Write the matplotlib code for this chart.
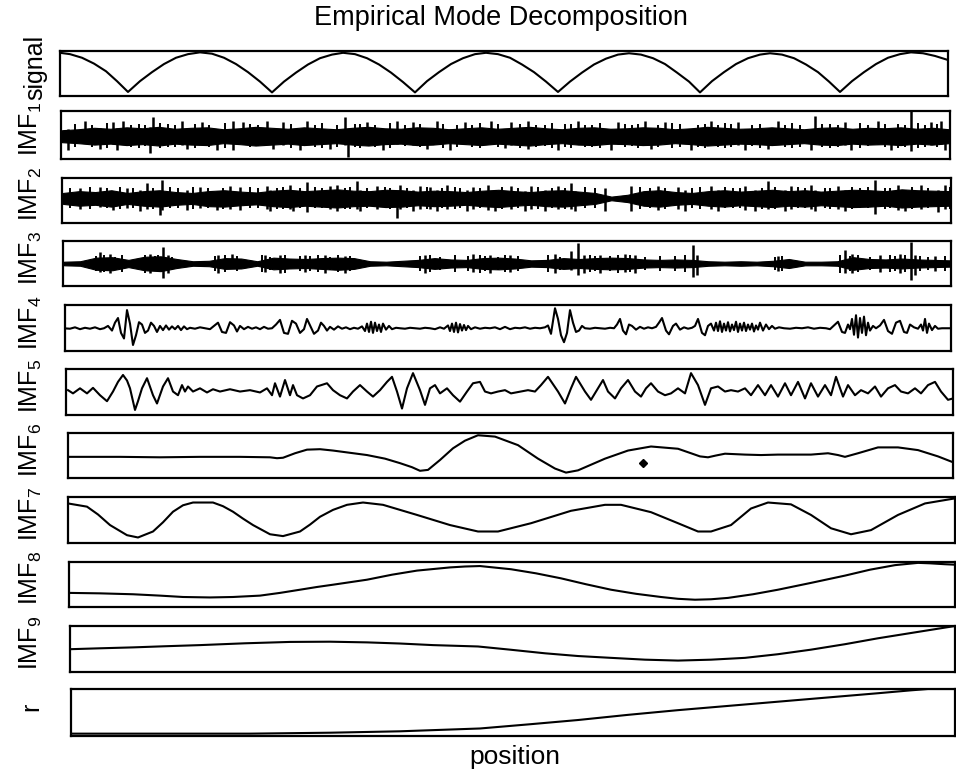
import numpy as np
import matplotlib
matplotlib.use('Agg')
import matplotlib.pyplot as plt

plt.rcParams['font.family'] = ['Liberation Sans', 'DejaVu Sans']
plt.rcParams['mathtext.fontset'] = 'custom'
plt.rcParams['mathtext.rm'] = 'Liberation Sans'

# ---- data (position, normalised amplitude 0..1 inside each panel) ----

# original signal: rectified sine-like arches
sig_x = [60, 70, 82, 94, 106, 117, 128,
         140, 152, 164, 176, 188, 200, 212, 224, 236, 248, 260, 272,
         284, 296, 308, 320, 332, 343, 355, 367, 379, 391, 403, 415,
         427, 439, 451, 463, 475, 486, 498, 510, 522, 534, 546, 558,
         570, 582, 594, 606, 618, 629, 641, 653, 665, 677, 689, 700,
         712, 724, 736, 748, 760, 770, 782, 794, 806, 818, 829, 840,
         852, 864, 876, 888, 900, 911, 923, 935, 948]
sig_y = [0.96, 0.93, 0.85, 0.72, 0.55, 0.33, 0.09,
         0.33, 0.53, 0.71, 0.85, 0.93, 0.97, 0.94, 0.85, 0.71, 0.53, 0.32, 0.08,
         0.32, 0.52, 0.70, 0.84, 0.92, 0.96, 0.93, 0.84, 0.70, 0.52, 0.31, 0.08,
         0.33, 0.53, 0.71, 0.84, 0.93, 0.96, 0.93, 0.85, 0.70, 0.53, 0.32, 0.09,
         0.32, 0.52, 0.70, 0.83, 0.92, 0.95, 0.92, 0.84, 0.71, 0.52, 0.32, 0.08,
         0.33, 0.53, 0.71, 0.84, 0.92, 0.95, 0.92, 0.84, 0.70, 0.53, 0.32, 0.09,
         0.33, 0.53, 0.71, 0.85, 0.93, 0.97, 0.95, 0.89, 0.80]

# IMF1-IMF3: dense oscillation -> band envelope, large bursts, small fringe
imf1_hi = [0.60, 0.62, 0.65, 0.63, 0.66, 0.64, 0.67, 0.63,
           0.65, 0.66, 0.62, 0.64, 0.67, 0.65, 0.63, 0.66,
           0.64, 0.62, 0.65, 0.67, 0.64, 0.63, 0.66, 0.65,
           0.62, 0.64, 0.66, 0.63, 0.65, 0.67, 0.64, 0.62,
           0.65, 0.66, 0.63, 0.64, 0.66, 0.65, 0.62, 0.64,
           0.67, 0.65, 0.63, 0.64, 0.66, 0.64, 0.62, 0.65,
           0.66, 0.63, 0.65, 0.64, 0.66, 0.63, 0.65, 0.62]
imf1_lo = [0.35, 0.33, 0.30, 0.32, 0.29, 0.31, 0.28, 0.32,
           0.30, 0.29, 0.33, 0.31, 0.28, 0.30, 0.32, 0.29,
           0.31, 0.33, 0.30, 0.28, 0.31, 0.32, 0.29, 0.30,
           0.33, 0.31, 0.29, 0.32, 0.30, 0.28, 0.31, 0.33,
           0.30, 0.29, 0.32, 0.31, 0.29, 0.30, 0.33, 0.31,
           0.28, 0.30, 0.32, 0.31, 0.29, 0.31, 0.33, 0.30,
           0.29, 0.32, 0.30, 0.31, 0.29, 0.32, 0.30, 0.33]
imf1_bx = [68, 85, 100, 113, 117, 123, 150, 153, 182, 187, 202, 217, 233, 243,
           267, 273, 283, 300, 307, 330, 345, 348, 367, 383, 397, 413, 427, 437,
           450, 465, 491, 505, 511, 528, 558, 578, 611, 618, 645, 651, 665, 691,
           711, 738, 745, 768, 778, 811, 815, 845, 851, 878, 891, 911, 931, 941, 945]
imf1_btop = [0.62, 0.80, 0.64, 0.78, 0.64, 0.80, 0.66, 0.88, 0.80, 0.62, 0.78, 0.62, 0.80, 0.78,
             0.80, 0.62, 0.78, 0.62, 0.80, 0.62, 0.88, 0.60, 0.78, 0.62, 0.80, 0.78, 0.62, 0.80,
             0.62, 0.78, 0.80, 0.62, 0.78, 0.80, 0.62, 0.80, 0.62, 0.78, 0.80, 0.62, 0.78, 0.62,
             0.80, 0.78, 0.62, 0.62, 0.80, 0.62, 0.89, 0.78, 0.62, 0.80, 0.62, 1.00, 0.78, 0.80, 0.62]
imf1_bbot = [0.18, 0.34, 0.20, 0.32, 0.18, 0.34, 0.12, 0.32, 0.30, 0.20, 0.32, 0.19, 0.18, 0.32,
             0.32, 0.20, 0.30, 0.18, 0.32, 0.20, 0.30, 0.04, 0.32, 0.18, 0.32, 0.30, 0.20, 0.32,
             0.18, 0.32, 0.32, 0.22, 0.30, 0.20, 0.19, 0.32, 0.18, 0.32, 0.30, 0.20, 0.32, 0.18,
             0.32, 0.30, 0.19, 0.20, 0.32, 0.18, 0.32, 0.30, 0.19, 0.32, 0.18, 0.17, 0.30, 0.32, 0.18]
imf1_fx = [75, 92, 107, 131, 139, 145, 160, 168, 175, 195,
           209, 225, 250, 258, 291, 315, 322, 337, 355, 360,
           375, 390, 405, 420, 443, 457, 472, 480, 498, 520,
           536, 545, 552, 565, 571, 585, 592, 600, 625, 632,
           638, 658, 672, 680, 698, 705, 718, 725, 731, 752,
           760, 785, 792, 800, 822, 830, 838, 860, 868, 885,
           898, 905, 918, 925, 937]
imf1_ftop = [0.72, 0.70, 0.74, 0.71, 0.73, 0.70, 0.74, 0.72, 0.70, 0.73,
             0.71, 0.74, 0.72, 0.70, 0.73, 0.71, 0.74, 0.70, 0.72, 0.73,
             0.71, 0.74, 0.70, 0.72, 0.73, 0.71, 0.70, 0.74, 0.72, 0.73,
             0.71, 0.70, 0.74, 0.72, 0.73, 0.70, 0.71, 0.74, 0.72, 0.70,
             0.73, 0.71, 0.74, 0.72, 0.70, 0.73, 0.71, 0.74, 0.72, 0.70,
             0.73, 0.71, 0.74, 0.70, 0.72, 0.73, 0.71, 0.74, 0.70, 0.72,
             0.73, 0.71, 0.74, 0.70, 0.72]
imf1_fbot = [0.24, 0.26, 0.22, 0.25, 0.23, 0.27, 0.22, 0.24, 0.26, 0.23,
             0.25, 0.22, 0.24, 0.27, 0.23, 0.25, 0.22, 0.26, 0.24, 0.23,
             0.25, 0.22, 0.27, 0.24, 0.23, 0.25, 0.26, 0.22, 0.24, 0.23,
             0.25, 0.27, 0.22, 0.24, 0.23, 0.26, 0.25, 0.22, 0.24, 0.27,
             0.23, 0.25, 0.22, 0.24, 0.26, 0.23, 0.25, 0.22, 0.24, 0.27,
             0.23, 0.25, 0.22, 0.26, 0.24, 0.23, 0.25, 0.22, 0.27, 0.24,
             0.23, 0.25, 0.22, 0.26, 0.24]

imf2_hi = [0.66, 0.70, 0.68, 0.72, 0.66, 0.70, 0.72, 0.68,
           0.66, 0.70, 0.72, 0.69, 0.67, 0.71, 0.73, 0.70,
           0.72, 0.74, 0.71, 0.70, 0.73, 0.72, 0.69, 0.71,
           0.70, 0.68, 0.71, 0.73, 0.70, 0.68, 0.71, 0.72,
           0.69, 0.66, 0.58, 0.62, 0.70, 0.72, 0.68, 0.66,
           0.70, 0.72, 0.69, 0.71, 0.73, 0.70, 0.72, 0.69,
           0.71, 0.73, 0.72, 0.70, 0.74, 0.72, 0.71, 0.70]
imf2_lo = [0.42, 0.38, 0.40, 0.36, 0.42, 0.38, 0.36, 0.40,
           0.42, 0.37, 0.36, 0.39, 0.41, 0.37, 0.35, 0.38,
           0.36, 0.34, 0.37, 0.38, 0.35, 0.36, 0.39, 0.37,
           0.38, 0.40, 0.37, 0.35, 0.38, 0.40, 0.37, 0.36,
           0.39, 0.42, 0.50, 0.46, 0.38, 0.36, 0.40, 0.42,
           0.38, 0.36, 0.39, 0.37, 0.35, 0.38, 0.36, 0.39,
           0.37, 0.35, 0.36, 0.38, 0.34, 0.36, 0.37, 0.38]
imf2_bx = [80, 100, 113, 127, 140, 147, 160, 162, 187, 200, 217, 230, 240, 267, 270,
           290, 293, 307, 330, 337, 357, 360, 377, 397, 400, 413, 420, 430, 437, 447,
           467, 473, 488, 495, 511, 525, 531, 545, 558, 571, 575, 605, 631, 658, 678,
           685, 711, 718, 745, 755, 768, 785, 791, 811, 815, 838, 845, 875, 898, 905,
           921, 938, 945]
imf2_btop = [0.78, 0.80, 0.70, 0.78, 0.72, 0.87, 0.70, 0.94, 0.72, 0.80, 0.70, 0.82, 0.80, 0.82, 0.72,
             0.84, 0.70, 0.90, 0.82, 0.84, 0.93, 0.72, 0.82, 0.70, 0.84, 0.72, 0.82, 0.80, 0.72, 0.84,
             0.72, 0.80, 0.84, 0.72, 0.82, 0.70, 0.82, 0.72, 0.82, 0.88, 0.70, 0.78, 0.82, 0.82, 0.80,
             0.72, 0.82, 0.72, 0.82, 0.72, 0.93, 0.72, 0.82, 0.84, 0.72, 0.82, 0.72, 0.94, 0.84, 0.72,
             0.84, 0.72, 0.84]
imf2_bbot = [0.30, 0.36, 0.28, 0.34, 0.27, 0.30, 0.18, 0.28, 0.28, 0.34, 0.28, 0.30, 0.28, 0.30, 0.27,
             0.30, 0.26, 0.24, 0.30, 0.26, 0.30, 0.26, 0.30, 0.12, 0.30, 0.26, 0.30, 0.30, 0.27, 0.30,
             0.27, 0.30, 0.28, 0.26, 0.30, 0.27, 0.30, 0.26, 0.30, 0.30, 0.26, 0.26, 0.27, 0.28, 0.30,
             0.26, 0.30, 0.26, 0.28, 0.26, 0.30, 0.26, 0.30, 0.30, 0.26, 0.30, 0.26, 0.20, 0.28, 0.26,
             0.30, 0.24, 0.30]
imf2_fx = [70, 90, 107, 120, 133, 153, 170, 178, 193, 208,
           223, 250, 258, 277, 283, 300, 315, 322, 345, 350,
           367, 385, 390, 407, 427, 442, 455, 460, 480, 502,
           518, 538, 552, 565, 585, 595, 640, 650, 665, 692,
           700, 725, 733, 740, 762, 775, 798, 805, 825, 830,
           852, 860, 868, 885, 890, 912, 928, 950]
imf2_ftop = [0.77, 0.79, 0.76, 0.80, 0.78, 0.76, 0.79, 0.77, 0.80, 0.76,
             0.78, 0.80, 0.77, 0.76, 0.79, 0.78, 0.80, 0.76, 0.77, 0.79,
             0.76, 0.80, 0.78, 0.77, 0.79, 0.76, 0.80, 0.78, 0.77, 0.79,
             0.76, 0.80, 0.77, 0.78, 0.79, 0.76, 0.80, 0.77, 0.78, 0.76,
             0.79, 0.80, 0.77, 0.76, 0.78, 0.79, 0.80, 0.77, 0.76, 0.78,
             0.79, 0.77, 0.80, 0.76, 0.78, 0.79, 0.77, 0.80]
imf2_fbot = [0.32, 0.30, 0.33, 0.31, 0.34, 0.30, 0.32, 0.33, 0.31, 0.34,
             0.30, 0.32, 0.33, 0.31, 0.30, 0.34, 0.32, 0.33, 0.30, 0.31,
             0.34, 0.32, 0.30, 0.33, 0.31, 0.34, 0.30, 0.32, 0.33, 0.31,
             0.34, 0.30, 0.32, 0.31, 0.33, 0.34, 0.30, 0.32, 0.31, 0.33,
             0.30, 0.34, 0.32, 0.33, 0.31, 0.30, 0.32, 0.34, 0.33, 0.31,
             0.30, 0.32, 0.34, 0.31, 0.33, 0.30, 0.32, 0.31]

imf3_hi = [0.54, 0.55, 0.63, 0.64, 0.58, 0.65, 0.66, 0.60,
           0.55, 0.56, 0.62, 0.61, 0.55, 0.63, 0.61, 0.60,
           0.62, 0.63, 0.62, 0.55, 0.54, 0.56, 0.58, 0.62,
           0.59, 0.58, 0.62, 0.63, 0.61, 0.57, 0.58, 0.62,
           0.60, 0.62, 0.63, 0.62, 0.59, 0.58, 0.59, 0.58,
           0.55, 0.54, 0.55, 0.54, 0.56, 0.60, 0.54, 0.54,
           0.55, 0.64, 0.60, 0.59, 0.61, 0.59, 0.58, 0.57]
imf3_lo = [0.46, 0.45, 0.36, 0.35, 0.42, 0.35, 0.33, 0.40,
           0.45, 0.44, 0.38, 0.39, 0.45, 0.37, 0.39, 0.40,
           0.38, 0.36, 0.38, 0.45, 0.46, 0.44, 0.42, 0.38,
           0.41, 0.42, 0.38, 0.37, 0.39, 0.43, 0.42, 0.38,
           0.40, 0.38, 0.37, 0.38, 0.41, 0.42, 0.41, 0.42,
           0.45, 0.46, 0.45, 0.46, 0.44, 0.40, 0.46, 0.46,
           0.45, 0.36, 0.40, 0.41, 0.39, 0.41, 0.42, 0.43]
imf3_bx = [100, 110, 150, 163, 168, 218, 232, 265, 280, 305, 325, 345, 425, 473, 490,
           510, 555, 571, 578, 584, 600, 625, 635, 693, 697, 778, 845, 852, 880, 900,
           911, 915, 935]
imf3_btop = [0.75, 0.72, 0.72, 0.87, 0.70, 0.70, 0.72, 0.70, 0.68, 0.68, 0.70, 0.66, 0.70, 0.72, 0.70,
             0.68, 0.72, 0.78, 0.96, 0.70, 0.70, 0.72, 0.70, 0.91, 0.70, 0.66, 0.80, 0.72, 0.68, 0.72,
             0.98, 0.70, 0.66]
imf3_bbot = [0.32, 0.30, 0.30, 0.17, 0.28, 0.30, 0.40, 0.32, 0.30, 0.32, 0.30, 0.30, 0.30, 0.32, 0.30,
             0.32, 0.30, 0.35, 0.24, 0.30, 0.30, 0.32, 0.30, 0.20, 0.25, 0.34, 0.30, 0.28, 0.32, 0.30,
             0.13, 0.25, 0.34]
imf3_fx = [96, 104, 115, 122, 145, 155, 158, 172, 215, 225,
           237, 262, 270, 285, 300, 310, 318, 330, 338, 350,
           420, 430, 440, 455, 468, 480, 485, 498, 505, 518,
           548, 560, 590, 595, 610, 618, 630, 645, 660, 675,
           685, 775, 782, 840, 850, 858, 870, 890, 895, 905,
           920, 928, 945]
imf3_ftop = [0.66, 0.69, 0.65, 0.68, 0.70, 0.66, 0.69, 0.65, 0.67, 0.69,
             0.66, 0.68, 0.65, 0.70, 0.67, 0.66, 0.69, 0.65, 0.68, 0.66,
             0.67, 0.69, 0.65, 0.68, 0.66, 0.70, 0.67, 0.65, 0.69, 0.66,
             0.68, 0.65, 0.69, 0.67, 0.66, 0.70, 0.68, 0.65, 0.67, 0.66,
             0.69, 0.64, 0.66, 0.70, 0.67, 0.69, 0.65, 0.68, 0.66, 0.69,
             0.67, 0.65, 0.66]
imf3_fbot = [0.33, 0.31, 0.35, 0.32, 0.30, 0.34, 0.31, 0.35, 0.33, 0.31,
             0.34, 0.32, 0.35, 0.30, 0.33, 0.34, 0.31, 0.35, 0.32, 0.34,
             0.33, 0.31, 0.35, 0.32, 0.34, 0.30, 0.33, 0.35, 0.31, 0.34,
             0.32, 0.35, 0.31, 0.33, 0.34, 0.30, 0.32, 0.35, 0.33, 0.34,
             0.31, 0.36, 0.34, 0.30, 0.33, 0.31, 0.35, 0.32, 0.34, 0.31,
             0.33, 0.35, 0.34]

imf4_x = [63, 70, 75, 80, 85, 90, 95, 100, 104, 108, 112, 115, 118, 121, 124, 127, 130, 133, 136, 139,
          142, 145, 148, 151, 154, 157, 160, 163, 166, 169, 172, 175, 178, 181, 184, 187, 190, 195, 200, 205,
          210, 214, 218, 222, 226, 230, 234, 237, 240, 244, 248, 252, 256, 260, 264, 268, 272, 276, 280, 284,
          288, 292, 296, 300, 304, 307, 311, 314, 318, 321, 324, 327, 330, 334, 338, 342, 346, 350, 354, 358,
          362, 365, 367, 369, 371, 373, 375, 377, 379, 381, 383, 386, 389, 392, 396, 400, 405, 410, 415, 420,
          425, 430, 435, 440, 444, 448, 450, 452, 454, 456, 458, 460, 462, 464, 466, 468, 471, 475, 480, 485,
          490, 495, 500, 505, 510, 515, 520, 525, 530, 535, 540, 545, 548, 551, 555, 558, 561, 564, 567, 570,
          573, 576, 579, 582, 585, 590, 595, 600, 605, 610, 614, 617, 620, 623, 626, 629, 632, 636, 640, 644,
          648, 652, 656, 659, 662, 666, 669, 673, 676, 680, 684, 688, 692, 695, 698, 702, 705, 708, 711, 714,
          716, 718, 720, 722, 724, 726, 728, 730, 732, 734, 736, 738, 740, 742, 744, 746, 748, 750, 752, 754,
          756, 758, 760, 763, 766, 769, 772, 775, 779, 784, 790, 796, 802, 808, 814, 820, 826, 830, 834, 838,
          842, 845, 848, 850, 852, 854, 856, 858, 860, 862, 864, 866, 868, 870, 873, 876, 880, 884, 888, 892,
          896, 900, 904, 907, 910, 914, 918, 921, 923, 925, 927, 929, 932, 935, 938, 942, 946, 951]
imf4_y = [0.50, 0.49, 0.52, 0.48, 0.51, 0.49, 0.52, 0.48, 0.50, 0.55, 0.45, 0.62, 0.72, 0.40, 0.28, 0.89, 0.60, 0.14, 0.35, 0.63,
          0.58, 0.40, 0.45, 0.62, 0.55, 0.42, 0.55, 0.46, 0.56, 0.47, 0.54, 0.48, 0.55, 0.46, 0.54, 0.48, 0.51, 0.49, 0.52, 0.50,
          0.48, 0.55, 0.62, 0.42, 0.40, 0.63, 0.56, 0.43, 0.55, 0.48, 0.53, 0.49, 0.52, 0.48, 0.53, 0.49, 0.50, 0.58, 0.68, 0.40,
          0.38, 0.66, 0.60, 0.40, 0.48, 0.70, 0.52, 0.38, 0.45, 0.62, 0.55, 0.45, 0.53, 0.47, 0.54, 0.49, 0.52, 0.48, 0.51, 0.49,
          0.54, 0.44, 0.60, 0.42, 0.64, 0.40, 0.62, 0.44, 0.58, 0.42, 0.60, 0.47, 0.55, 0.48, 0.51, 0.50, 0.49, 0.51, 0.50, 0.49,
          0.51, 0.50, 0.48, 0.52, 0.49, 0.56, 0.44, 0.60, 0.42, 0.62, 0.41, 0.59, 0.45, 0.57, 0.46, 0.55, 0.48, 0.52, 0.49, 0.51,
          0.50, 0.52, 0.48, 0.53, 0.48, 0.51, 0.50, 0.52, 0.49, 0.51, 0.50, 0.52, 0.56, 0.38, 0.93, 0.70, 0.35, 0.20, 0.40, 0.89,
          0.62, 0.42, 0.45, 0.55, 0.50, 0.49, 0.51, 0.50, 0.49, 0.51, 0.50, 0.58, 0.70, 0.45, 0.37, 0.58, 0.55, 0.47, 0.53, 0.49,
          0.52, 0.50, 0.53, 0.62, 0.72, 0.45, 0.37, 0.55, 0.60, 0.47, 0.52, 0.49, 0.51, 0.55, 0.70, 0.40, 0.35, 0.55, 0.60, 0.45,
          0.62, 0.44, 0.65, 0.42, 0.60, 0.45, 0.63, 0.43, 0.58, 0.46, 0.64, 0.42, 0.60, 0.45, 0.62, 0.44, 0.58, 0.47, 0.60, 0.43,
          0.56, 0.47, 0.62, 0.45, 0.58, 0.48, 0.55, 0.49, 0.52, 0.50, 0.49, 0.51, 0.50, 0.52, 0.49, 0.51, 0.50, 0.48, 0.56, 0.64,
          0.42, 0.40, 0.58, 0.48, 0.70, 0.36, 0.78, 0.30, 0.72, 0.40, 0.75, 0.35, 0.62, 0.45, 0.55, 0.50, 0.56, 0.68, 0.44, 0.38,
          0.62, 0.66, 0.42, 0.40, 0.58, 0.52, 0.49, 0.58, 0.45, 0.70, 0.40, 0.60, 0.46, 0.55, 0.49, 0.50, 0.50, 0.50]

imf5_x = [68, 73, 80, 87, 93, 100, 107, 113, 118, 123, 127, 130, 135, 138, 142, 147, 153, 157, 163, 168,
          173, 178, 182, 185, 188, 193, 200, 207, 213, 220, 230, 240, 250, 260, 267, 272, 275, 280, 285, 290,
          293, 297, 303, 310, 317, 327, 333, 340, 347, 353, 360, 367, 373, 380, 387, 392, 397, 402, 407, 413,
          420, 425, 430, 435, 440, 447, 453, 460, 467, 473, 480, 485, 491, 498, 505, 511, 521, 528, 535, 541,
          548, 558, 565, 571, 576, 585, 591, 598, 603, 608, 615, 621, 628, 635, 641, 646, 651, 658, 665, 671,
          678, 685, 691, 698, 705, 711, 718, 725, 731, 738, 745, 751, 758, 765, 771, 778, 785, 791, 798, 805,
          811, 818, 825, 831, 836, 843, 848, 855, 861, 868, 875, 881, 888, 895, 901, 908, 915, 921, 928, 935,
          941, 948, 953]
imf5_y = [0.54, 0.47, 0.58, 0.47, 0.59, 0.43, 0.30, 0.51, 0.72, 0.87, 0.75, 0.58, 0.11, 0.30, 0.58, 0.80, 0.43, 0.25, 0.62, 0.80,
          0.51, 0.43, 0.65, 0.51, 0.62, 0.51, 0.58, 0.49, 0.56, 0.51, 0.56, 0.51, 0.54, 0.49, 0.58, 0.43, 0.69, 0.40, 0.76, 0.43,
          0.65, 0.43, 0.36, 0.43, 0.62, 0.69, 0.54, 0.43, 0.36, 0.51, 0.65, 0.51, 0.40, 0.54, 0.72, 0.83, 0.51, 0.14, 0.58, 0.91,
          0.54, 0.22, 0.58, 0.65, 0.47, 0.58, 0.43, 0.29, 0.51, 0.69, 0.72, 0.51, 0.47, 0.51, 0.54, 0.47, 0.51, 0.54, 0.51, 0.65,
          0.83, 0.51, 0.25, 0.58, 0.83, 0.51, 0.33, 0.58, 0.76, 0.51, 0.36, 0.58, 0.76, 0.51, 0.40, 0.58, 0.69, 0.51, 0.43, 0.47,
          0.58, 0.47, 0.91, 0.65, 0.22, 0.58, 0.62, 0.51, 0.54, 0.51, 0.58, 0.43, 0.65, 0.43, 0.65, 0.40, 0.69, 0.43, 0.72, 0.36,
          0.69, 0.40, 0.65, 0.43, 0.83, 0.40, 0.65, 0.43, 0.54, 0.47, 0.62, 0.40, 0.58, 0.65, 0.51, 0.47, 0.58, 0.47, 0.65, 0.72,
          0.51, 0.33, 0.36]

imf6_x = [68, 120, 160, 200, 240, 270, 277, 283, 295, 307, 320, 333, 350, 367, 385, 400, 412, 420, 428, 440,
          453, 465, 478, 495, 518, 538, 555, 566, 578, 605, 628, 651, 678, 691, 700, 708, 716, 725, 745, 761,
          778, 811, 828, 838, 845, 858, 878, 898, 918, 938, 953]
imf6_y = [0.47, 0.47, 0.46, 0.47, 0.47, 0.46, 0.44, 0.45, 0.55, 0.63, 0.64, 0.61, 0.56, 0.51, 0.43, 0.33, 0.24, 0.16, 0.18, 0.40,
          0.66, 0.83, 0.95, 0.92, 0.73, 0.43, 0.21, 0.12, 0.17, 0.43, 0.61, 0.70, 0.65, 0.55, 0.48, 0.46, 0.50, 0.54, 0.52, 0.51,
          0.52, 0.52, 0.55, 0.51, 0.47, 0.55, 0.68, 0.68, 0.62, 0.48, 0.35]
imf6_dot = (643, 0.33)

imf7_x = [68, 87, 98, 110, 127, 138, 153, 163, 173, 183, 193, 213, 223, 233, 243, 253, 270, 283, 300, 310,
          320, 333, 347, 363, 383, 417, 450, 478, 498, 531, 571, 605, 621, 651, 678, 698, 711, 731, 751, 768,
          791, 811, 831, 851, 871, 898, 925, 955]
imf7_y = [0.86, 0.79, 0.62, 0.39, 0.17, 0.12, 0.25, 0.45, 0.68, 0.82, 0.88, 0.88, 0.80, 0.68, 0.53, 0.39, 0.19, 0.15, 0.25, 0.40,
          0.57, 0.72, 0.83, 0.88, 0.83, 0.61, 0.39, 0.25, 0.25, 0.43, 0.70, 0.83, 0.83, 0.67, 0.43, 0.25, 0.25, 0.39, 0.75, 0.88,
          0.84, 0.61, 0.32, 0.19, 0.28, 0.61, 0.86, 0.97]

imf8_x = [69, 100, 133, 160, 183, 210, 233, 260, 280, 300, 317, 333, 367, 392, 417, 450, 465, 480, 511, 536,
          561, 586, 611, 636, 661, 678, 695, 711, 728, 753, 778, 811, 845, 870, 895, 918, 930, 945, 955]
imf8_y = [0.31, 0.30, 0.28, 0.25, 0.22, 0.21, 0.22, 0.25, 0.31, 0.38, 0.44, 0.49, 0.60, 0.71, 0.80, 0.87, 0.89, 0.90, 0.83, 0.74,
          0.63, 0.50, 0.38, 0.29, 0.22, 0.18, 0.16, 0.17, 0.20, 0.28, 0.38, 0.53, 0.69, 0.82, 0.92, 0.97, 0.96, 0.94, 0.93]

imf9_x = [70, 100, 133, 165, 200, 245, 290, 330, 367, 400, 433, 478, 510, 545, 578, 611, 645, 678, 711, 745,
          778, 811, 845, 878, 915, 955]
imf9_y = [0.49, 0.51, 0.53, 0.555, 0.58, 0.62, 0.65, 0.655, 0.64, 0.615, 0.58, 0.55, 0.48, 0.40, 0.34, 0.30, 0.26, 0.24, 0.26, 0.30,
          0.38, 0.48, 0.60, 0.73, 0.86, 1.00]

res_x = [71, 150, 250, 330, 400, 480, 530, 578, 628, 678, 728, 778, 828, 878, 910, 928, 955]
res_y = [0.05, 0.05, 0.05, 0.07, 0.10, 0.16, 0.25, 0.34, 0.45, 0.55, 0.64, 0.73, 0.82, 0.91, 0.97, 1.00, 1.00]

labels = ['signal'] + ['IMF$_{\\mathregular{%d}}$' % k for k in range(1, 10)] + ['r']

# ---- layout: panel boxes in pixels (left, right, top, bottom) ----
W, H = 956, 776
boxes = [(60, 948, 51, 96), (61, 950, 111, 159), (62, 951, 177.5, 223),
         (63, 951, 241, 286), (65, 951, 305, 351.5), (66, 953, 369, 415),
         (68, 953, 433, 478), (68, 955, 497, 543), (69, 955, 561.5, 607),
         (70, 955, 626, 671.5), (71, 955, 689, 736)]

fig = plt.figure(figsize=(W / 100, H / 100), dpi=100)
fig.patch.set_facecolor('white')

axes = []
for l, r, t, b in boxes:
    ax = fig.add_axes([l / W, 1 - b / H, (r - l) / W, (b - t) / H])
    ax.set_xlim(l, r)
    ax.set_ylim(0, 1)
    ax.set_xticks([])
    ax.set_yticks([])
    for s in ax.spines.values():
        s.set_linewidth(1.6)
    axes.append(ax)

lw = 1.5
axes[0].plot(sig_x, sig_y, color='k', lw=lw, solid_joinstyle='round')

# noisy modes: filled band, big bursts, then the fringe of small ones
noisy = [(imf1_hi, imf1_lo, imf1_bx, imf1_btop, imf1_bbot, imf1_fx, imf1_ftop, imf1_fbot),
         (imf2_hi, imf2_lo, imf2_bx, imf2_btop, imf2_bbot, imf2_fx, imf2_ftop, imf2_fbot),
         (imf3_hi, imf3_lo, imf3_bx, imf3_btop, imf3_bbot, imf3_fx, imf3_ftop, imf3_fbot)]
for k, (hi, lo, bx, btop, bbot, fx, ftop, fbot) in enumerate(noisy, start=1):
    ax = axes[k]
    l, r = boxes[k][0], boxes[k][1]
    xs = np.linspace(l + 1, r - 1, len(hi))
    ax.fill_between(xs, lo, hi, color='k', lw=0.8, edgecolor='k')
    ax.vlines(bx, bbot, btop, color='k', lw=1.8)
    ax.vlines(fx, fbot, ftop, color='k', lw=1.4)

axes[4].plot(imf4_x, imf4_y, color='k', lw=lw, solid_joinstyle='round')
axes[5].plot(imf5_x, imf5_y, color='k', lw=lw, solid_joinstyle='round')
axes[6].plot(imf6_x, imf6_y, color='k', lw=lw, solid_joinstyle='round')
axes[6].plot([imf6_dot[0]], [imf6_dot[1]], marker='D', ms=4, color='k')
axes[7].plot(imf7_x, imf7_y, color='k', lw=lw, solid_joinstyle='round')
axes[8].plot(imf8_x, imf8_y, color='k', lw=lw, solid_joinstyle='round')
axes[9].plot(imf9_x, imf9_y, color='k', lw=lw, solid_joinstyle='round')
axes[10].plot(res_x, res_y, color='k', lw=lw, solid_joinstyle='round')

# row labels, rotated, sitting a bit above each panel centre
for k, (lab, (l, r, t, b)) in enumerate(zip(labels, boxes)):
    yc = (t + b) / 2 - 6
    xb = 42 if k == 0 else 38
    fig.text(xb / W, 1 - yc / H, lab, rotation=90, rotation_mode='anchor',
             ha='center', va='baseline', fontsize=18)

fig.text(501 / W, 1 - 18 / H, 'Empirical Mode Decomposition',
         ha='center', va='center', fontsize=19.5)
fig.text(515 / W, 1 - 757 / H, 'position', ha='center', va='center', fontsize=19)

fig.savefig('out.png', dpi=100)
